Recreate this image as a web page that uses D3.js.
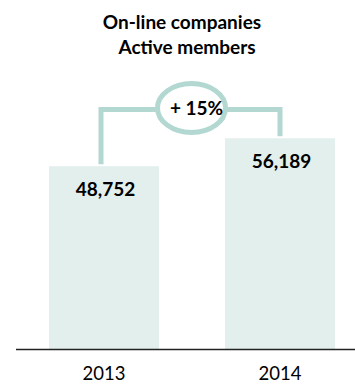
<!DOCTYPE html>
<html>
<head>
<meta charset="utf-8">
<script src="https://cdn.jsdelivr.net/npm/d3@7"></script>
<style>
  html, body { margin: 0; padding: 0; background: #fff; }
  svg { display: block; font-family: Lato, "Open Sans", sans-serif; }
</style>
</head>
<body>
<svg id="chart" width="355" height="385"></svg>
<script>
// Active members of on-line companies, per year
const years = ["2013", "2014"];
const members = [48752, 56189];
const titleLines = ["On-line companies", "Active members"];

const W = 355, H = 385;
const baseY = 349;

const svg = d3.select("#chart");

const x = d3.scaleBand()
  .domain(years)
  .range([27, 357])
  .paddingInner(0.375)
  .paddingOuter(0.125);

const y = d3.scaleLinear()
  .domain([0, 60000])
  .range([baseY, 124]);

const fmt = d3.format(",");
const barFill = "#e2efec";
const linkColor = "#b3d8d1";

// title
svg.append("g")
  .selectAll("text")
  .data(titleLines)
  .join("text")
  .attr("x", (d, i) => i === 0 ? 182 : 187)
  .attr("y", (d, i) => 29 + i * 25)
  .attr("text-anchor", "middle")
  .attr("font-weight", "bold")
  .attr("font-size", 19)
  .attr("fill", "#000")
  .text(d => d);

// bars
const data = years.map((yr, i) => ({ year: yr, value: members[i] }));

svg.append("g")
  .selectAll("rect")
  .data(data)
  .join("rect")
  .attr("x", d => x(d.year))
  .attr("y", d => y(d.value))
  .attr("width", x.bandwidth())
  .attr("height", d => baseY - y(d.value))
  .attr("fill", barFill);

// value labels inside the bars
svg.append("g")
  .selectAll("text")
  .data(data)
  .join("text")
  .attr("x", d => x(d.year) + x.bandwidth() / 2 + 1.5)
  .attr("y", d => y(d.value) + 30)
  .attr("text-anchor", "middle")
  .attr("font-weight", "bold")
  .attr("font-size", 19)
  .attr("fill", "#000")
  .text(d => fmt(d.value));

// growth connector between the two bars
const growth = members[1] / members[0] - 1;
const x1 = x(years[0]) + x.bandwidth() / 2 - 3;
const x2 = x(years[1]) + x.bandwidth() / 2;
const topY = 109.5;
const cx = (x1 + x2) / 2 + 1, cy = 108;
const rx = 34, ry = 24.5;

const link = svg.append("g")
  .attr("fill", "none")
  .attr("stroke", linkColor)
  .attr("stroke-width", 5);

link.append("path")
  .attr("d", d3.line()([[x1, y(members[0]) - 2], [x1, topY], [cx - rx, topY]]));
link.append("path")
  .attr("d", d3.line()([[cx + rx, topY], [x2, topY], [x2, y(members[1]) - 2]]));
link.append("ellipse")
  .attr("cx", cx).attr("cy", cy)
  .attr("rx", rx).attr("ry", ry)
  .attr("fill", "#fff");

svg.append("text")
  .attr("x", cx + 5)
  .attr("y", 114.5)
  .attr("text-anchor", "middle")
  .attr("font-weight", "bold")
  .attr("font-size", 19)
  .attr("fill", "#000")
  .text("+ " + d3.format(".0%")(growth));

// baseline axis with year labels
const axis = d3.axisBottom(x).tickSize(0).tickPadding(0);
const ax = svg.append("g")
  .attr("transform", `translate(0,${baseY})`)
  .call(axis);
ax.select(".domain").remove();
ax.append("line")
  .attr("x1", 16).attr("x2", W)
  .attr("y1", 0.5).attr("y2", 0.5)
  .attr("stroke", "#222")
  .attr("stroke-width", 1.6);
ax.selectAll(".tick text")
  .attr("y", 31)
  .attr("dy", null)
  .attr("font-family", "Lato, 'Open Sans', sans-serif")
  .attr("font-size", 18.5)
  .attr("fill", "#000");
</script>
</body>
</html>
